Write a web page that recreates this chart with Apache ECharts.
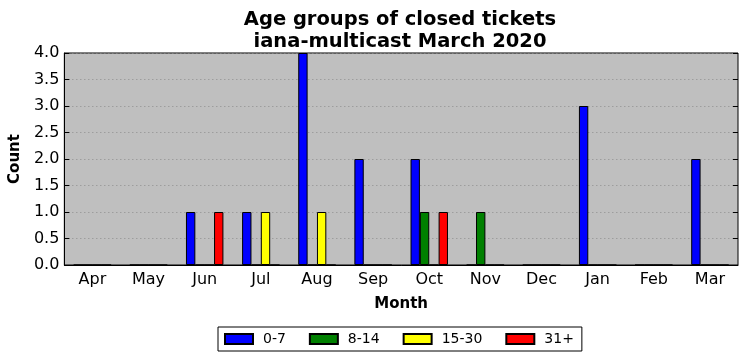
<!DOCTYPE html>
<html><head><meta charset="utf-8">
<script src="https://cdn.jsdelivr.net/npm/echarts@6/dist/echarts.min.js"></script>
<style>html,body{margin:0;padding:0;background:#fff}#c{width:747px;height:361px}</style>
</head><body><div id="c"></div>
<script>
const months = ['Apr','May','Jun','Jul','Aug','Sep','Oct','Nov','Dec','Jan','Feb','Mar'];
const seriesNames = ['0-7','8-14','15-30','31+'];
const seriesColors = ['#0000ff','#008000','#ffff00','#ff0000'];
const v0_7   = [0,0,1,1,4,2,2,0,0,3,0,2];
const v8_14  = [0,0,0,0,0,0,1,1,0,0,0,0];
const v15_30 = [0,0,0,1,1,0,0,0,0,0,0,0];
const v31p   = [0,0,1,0,0,0,1,0,0,0,0,0];
const values = [v0_7, v8_14, v15_30, v31p];
const F = 'DejaVu Sans';
const chart = echarts.init(document.getElementById('c'), null, {renderer:'canvas'});
chart.setOption({
  animation:false,
  backgroundColor:'#ffffff',
  title:{text:'Age groups of closed tickets\niana-multicast March 2020', left:395, top:4, textAlign:'center',
    textStyle:{fontFamily:F, fontSize:19.5, fontWeight:'bold', color:'#000', lineHeight:22}},
  legend:{bottom:10, left:218, itemWidth:28, itemHeight:10, itemGap:23,
    borderColor:'#000', borderWidth:1, padding:[5,8,5,6], borderRadius:0,
    textStyle:{fontFamily:F, fontSize:14, color:'#000', padding:[0,0,0,5]},
    data:seriesNames.map(n=>({name:n, icon:'rect'}))},
  grid:{left:62, right:9, top:53, bottom:96, show:true, backgroundColor:'#bfbfbf', borderColor:'#000', borderWidth:1},
  xAxis:[{type:'category', data:months, name:'Month', nameLocation:'middle', nameGap:32,
    nameTextStyle:{fontFamily:F, fontSize:15, fontWeight:'bold', color:'#000'},
    axisLine:{lineStyle:{color:'#000'}}, axisTick:{inside:true, alignWithLabel:true, length:5, lineStyle:{color:'#000'}},
    axisLabel:{fontFamily:F, fontSize:16, color:'#000', margin:7}, splitLine:{show:false}},
    {type:'category', data:months, position:'top', axisLine:{show:false},
    axisTick:{inside:true, alignWithLabel:true, length:5, lineStyle:{color:'#000'}}, axisLabel:{show:false}}],
  yAxis:[{type:'value', min:0, max:4, interval:0.5, name:'Count', nameLocation:'middle', nameGap:37,
    nameTextStyle:{fontFamily:F, fontSize:15, fontWeight:'bold', color:'#000'},
    axisLine:{show:true, lineStyle:{color:'#000'}}, axisTick:{show:true, inside:true, length:5, lineStyle:{color:'#000'}},
    axisLabel:{fontFamily:F, fontSize:16, color:'#000', margin:5, formatter:v=>v.toFixed(1)},
    splitLine:{show:true, lineStyle:{color:'#8c8c8c', type:[1,3], width:1}}},
    {type:'value', min:0, max:4, interval:0.5, position:'right',
    axisLine:{show:false}, axisTick:{show:true, inside:true, length:5, lineStyle:{color:'#000'}},
    axisLabel:{show:false}, splitLine:{show:false}}],
  series:values.map((d,i)=>({name:seriesNames[i], type:'bar', data:d, barGap:'0%', barCategoryGap:'33.3%',
    itemStyle:{color:seriesColors[i], borderColor:'#000', borderWidth:1}}))
});
</script></body></html>
